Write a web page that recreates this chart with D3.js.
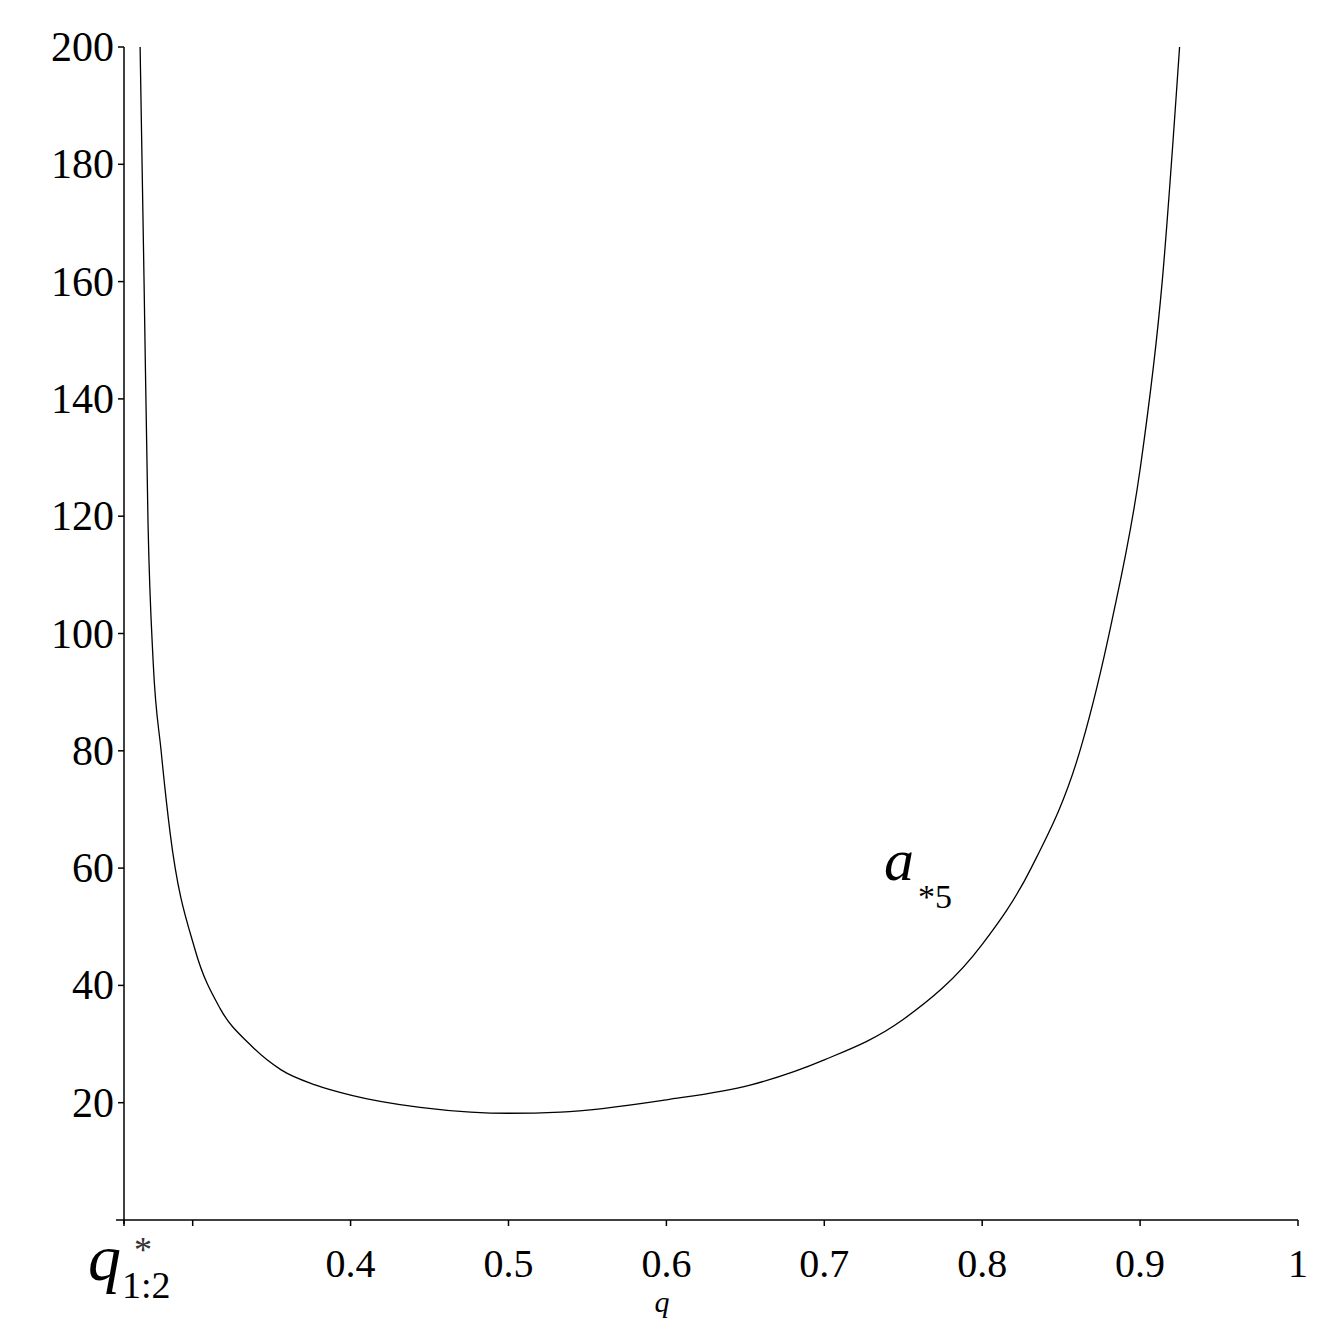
<!DOCTYPE html><html><head><meta charset="utf-8"><script src="https://cdn.jsdelivr.net/npm/d3@7"></script>
<style>body{margin:0;background:#fff}</style></head><body><svg id="c" width="1336" height="1344"></svg>
<script>
const qValues=[0.2667,0.2692,0.2717,0.2750,0.2800,0.2857,0.3016,0.3175,0.3360,0.356,0.378,0.4,0.444,0.476,0.5,0.533,0.6,0.653,0.7,0.749,0.8,0.831,0.863,0.882,0.9,0.914,0.925];
const aValues=[200,160,119,95,80,66,46,36,30,25.6,23,21.3,19.2,18.4,18.2,18.4,20.5,23,27.3,34,47,60,81,102,128,160,200];
const yTicks=[20,40,60,80,100,120,140,160,180,200];
const xTicks=[0.4,0.5,0.6,0.7,0.8,0.9,1];
const qStar=0.2565;
const svg=d3.select("#c");
const x=d3.scaleLinear().domain([qStar,1]).range([124,1298]);
const y=d3.scaleLinear().domain([0,200]).range([1220,47]);
const font="'Liberation Serif','Times New Roman',serif";
svg.append("line").attr("x1",116).attr("x2",1298).attr("y1",1220).attr("y2",1220).attr("stroke","#000").attr("stroke-width",1.5);
svg.append("line").attr("x1",124).attr("x2",124).attr("y1",47).attr("y2",1224).attr("stroke","#000").attr("stroke-width",1.5);
[qStar,0.3,...xTicks].forEach(t=>svg.append("line").attr("x1",x(t)).attr("x2",x(t)).attr("y1",1220).attr("y2",1226).attr("stroke","#000").attr("stroke-width",1.5));
xTicks.forEach(t=>svg.append("text").attr("x",x(t)).attr("y",1277).attr("text-anchor","middle").attr("font-family",font).attr("font-size",40).text(t));
yTicks.forEach(t=>{svg.append("line").attr("x1",118).attr("x2",124).attr("y1",y(t)).attr("y2",y(t)).attr("stroke","#000").attr("stroke-width",1.5);
svg.append("text").attr("x",114).attr("y",y(t)+14).attr("text-anchor","end").attr("font-family",font).attr("font-size",42).text(t);});
svg.append("text").attr("x",88).attr("y",1280).attr("font-family",font).attr("font-style","italic").attr("font-size",66).text("q");
svg.append("text").attr("x",134).attr("y",1262).attr("font-family",font).attr("font-size",36).attr("fill","#333").text("*");
svg.append("text").attr("x",122).attr("y",1298).attr("font-family",font).attr("font-size",38).text("1:2");
svg.append("text").attr("x",662).attr("y",1312).attr("text-anchor","middle").attr("font-family",font).attr("font-style","italic").attr("font-size",30).text("q");
svg.append("text").attr("x",884).attr("y",880).attr("font-family",font).attr("font-style","italic").attr("font-size",60).text("a");
svg.append("text").attr("x",918).attr("y",908).attr("font-family",font).attr("font-size",34).text("*5");
svg.append("path").datum(qValues.map((q,i)=>[q,aValues[i]])).attr("fill","none").attr("stroke","#000").attr("stroke-width",1.3)
.attr("d",d3.line().x(d=>x(d[0])).y(d=>y(d[1])).curve(d3.curveMonotoneX));
</script></body></html>
